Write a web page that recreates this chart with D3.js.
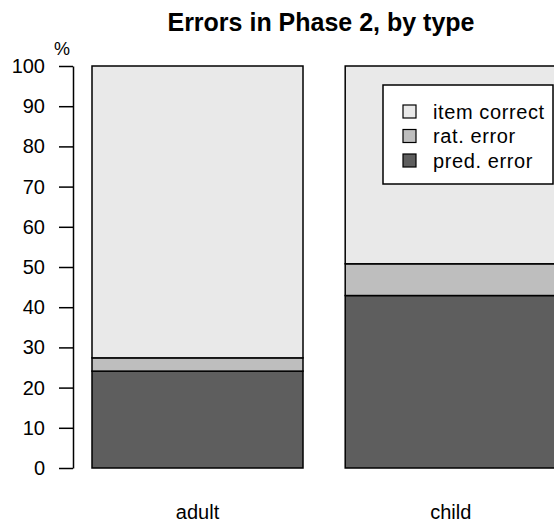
<!DOCTYPE html>
<html>
<head>
<meta charset="utf-8">
<script src="https://cdn.jsdelivr.net/npm/d3@7"></script>
<style>
	body{margin:0;background:#fff;}
	svg{display:block;font-family:"Liberation Sans",Arial,sans-serif;}
</style>
</head>
<body>
<div id="chart"></div>
<script>
// data (percent)
const categories = ['adult', 'child'];
const predError = [24.1, 42.9];
const ratError = [3.3, 7.9];
const itemCorrect = [72.6, 49.2];
const seriesNames = ['pred. error', 'rat. error', 'item correct'];
const seriesColors = ['#5e5e5e', '#bebebe', '#e9e9e9'];
const yTicks = [0, 10, 20, 30, 40, 50, 60, 70, 80, 90, 100];

const W = 554, H = 526;

const svg = d3.select('#chart')
	.append('svg')
	.attr('width', W)
	.attr('height', H);

const y = d3.scaleLinear().domain([0, 100]).range([468, 66]);
// bars are 211px wide with a gap of 0.2 bar widths, like R's barplot
const x = d3.scaleBand()
	.domain(categories)
	.range([92, 92 + 2.2 * 211])
	.paddingInner(0.2 / 1.2)
	.paddingOuter(0);

const table = categories.map((c, i) => ({
	cat: c,
	'pred. error': predError[i],
	'rat. error': ratError[i],
	'item correct': itemCorrect[i]
}));
const stacked = d3.stack().keys(seriesNames)(table);
const color = d3.scaleOrdinal().domain(seriesNames).range(seriesColors);

svg.append('g')
	.selectAll('g')
	.data(stacked)
	.join('g')
	.attr('fill', d => color(d.key))
	.selectAll('rect')
	.data(d => d)
	.join('rect')
	.attr('x', d => x(d.data.cat))
	.attr('width', x.bandwidth())
	.attr('y', d => y(d[1]))
	.attr('height', d => y(d[0]) - y(d[1]))
	.attr('stroke', '#000')
	.attr('stroke-width', 1.5);

// y axis
const yAxis = svg.append('g')
	.attr('transform', 'translate(73,0)')
	.call(d3.axisLeft(y).tickValues(yTicks).tickSize(14).tickSizeOuter(0).tickPadding(14));
yAxis.selectAll('line,path').attr('stroke', '#000').attr('stroke-width', 1.5);
yAxis.selectAll('text')
	.attr('fill', '#000')
	.style('font-size', '20px')
	.style('font-family', '"Liberation Sans",Arial,sans-serif');

svg.append('text')
	.attr('x', 62)
	.attr('y', 55)
	.attr('text-anchor', 'middle')
	.style('font-size', '18px')
	.text('%');

// category labels
svg.append('g')
	.selectAll('text')
	.data(categories)
	.join('text')
	.attr('x', d => x(d) + x.bandwidth() / 2)
	.attr('y', 519)
	.attr('text-anchor', 'middle')
	.style('font-size', '20px')
	.text(d => d);

// title
svg.append('text')
	.attr('x', 321)
	.attr('y', 31)
	.attr('text-anchor', 'middle')
	.style('font-size', '25px')
	.style('font-weight', 'bold')
	.text('Errors in Phase 2, by type');

// legend
const legend = svg.append('g');
legend.append('rect')
	.attr('x', 383)
	.attr('y', 85)
	.attr('width', 170)
	.attr('height', 99)
	.attr('fill', '#fff')
	.attr('stroke', '#000')
	.attr('stroke-width', 1.5);

const legendOrder = ['item correct', 'rat. error', 'pred. error'];
const items = legend.selectAll('g.item')
	.data(legendOrder)
	.join('g')
	.attr('class', 'item')
	.attr('transform', (d, i) => `translate(0,${111.5 + i * 24.5})`);
items.append('rect')
	.attr('x', 403)
	.attr('y', -6.5)
	.attr('width', 13)
	.attr('height', 13)
	.attr('fill', d => color(d))
	.attr('stroke', '#000')
	.attr('stroke-width', 1.2);
items.append('text')
	.attr('x', 433)
	.attr('dy', '0.35em')
	.style('font-size', '20px')
	.style('letter-spacing', '0.6px')
	.text(d => d);
</script>
</body>
</html>
